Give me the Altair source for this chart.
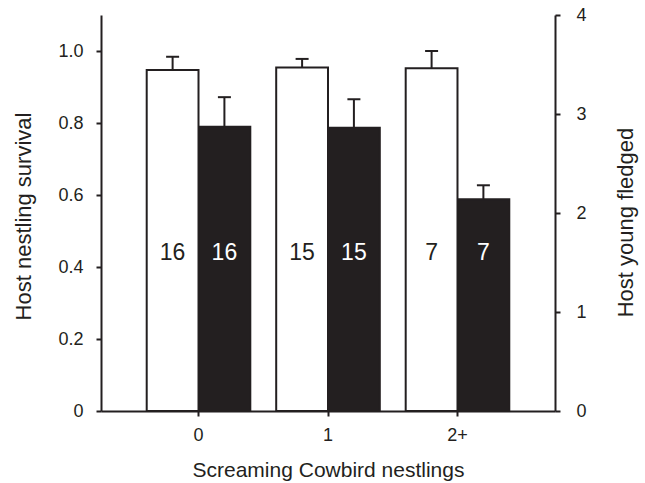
import altair as alt
import pandas as pd

categories = ["0", "1", "2+"]
survival = [0.947, 0.954, 0.952]
survival_upper = [0.984, 0.978, 1.000]
fledged = [2.87, 2.86, 2.14]
fledged_upper = [3.17, 3.15, 2.28]
sample_sizes = [16, 15, 7]
series_names = ["survival", "fledged"]

surv_df = pd.DataFrame({"group": categories, "series": "survival",
                        "value": survival, "upper": survival_upper})
fl_df = pd.DataFrame({"group": categories, "series": "fledged",
                      "value": fledged, "upper": fledged_upper})
n_df = pd.DataFrame({"group": categories * 2,
                     "series": ["survival"] * 3 + ["fledged"] * 3,
                     "n": sample_sizes * 2})

FONT = "Liberation Sans"
INK = "#231f20"

x_scale = alt.Scale(paddingInner=0.2, paddingOuter=0.353)
x_axis = alt.Axis(title="Screaming Cowbird nestlings", labelAngle=0,
                  tickSize=5, tickWidth=2, domainWidth=2, domainColor=INK,
                  tickColor=INK, labelFontSize=18, labelPadding=10,
                  titleFontSize=21, titleY=65.5, titleBaseline="alphabetic",
                  labelColor=INK, titleColor=INK, titleFontWeight="normal")
xoff = alt.XOffset("series:N", sort=series_names,
                   scale=alt.Scale(domain=series_names, paddingInner=0, paddingOuter=0))

def xenc():
    return alt.X("group:N", sort=categories, scale=x_scale, axis=x_axis)

left_scale = alt.Scale(domain=[0, 1.1], nice=False, zero=True)
right_scale = alt.Scale(domain=[0, 4], nice=False, zero=True)

left_axis = alt.Axis(title="Host nestling survival", orient="left",
                     values=[0, 0.2, 0.4, 0.6, 0.8, 1.0],
                     labelExpr="datum.value == 0 ? '0' : format(datum.value, '.1f')",
                     grid=False, tickSize=5, tickWidth=2, domainWidth=2,
                     domainColor=INK, tickColor=INK, labelFontSize=18,
                     labelPadding=13, titleFontSize=22,
                     titleAngle=270, titleBaseline="middle",
                     titleX=-77.5, titleY=201,
                     labelColor=INK, titleColor=INK, titleFontWeight="normal")
right_axis = alt.Axis(title="Host young fledged", orient="right",
                      values=[0, 1, 2, 3, 4], format="d",
                      grid=False, tickSize=5, tickWidth=2, domainWidth=2,
                      domainColor=INK, tickColor=INK, labelFontSize=18,
                      labelPadding=16, titleFontSize=22,
                      titleAngle=270, titleBaseline="middle",
                      titleX=70, titleY=207,
                      labelColor=INK, titleColor=INK, titleFontWeight="normal")

# Right-axis layer (black bars)
fl_bars = alt.Chart(fl_df).mark_bar(color=INK, stroke=INK, strokeWidth=2).encode(
    x=xenc(), xOffset=xoff,
    y=alt.Y("value:Q", scale=right_scale, axis=right_axis),
)
fl_rule = alt.Chart(fl_df).mark_rule(color=INK, strokeWidth=2).encode(
    x=xenc(), xOffset=xoff,
    y=alt.Y("value:Q", scale=right_scale, axis=right_axis), y2="upper:Q",
)
fl_cap = alt.Chart(fl_df).mark_tick(color=INK, orient="horizontal", size=13,
                                    thickness=2, opacity=1).encode(
    x=xenc(), xOffset=xoff,
    y=alt.Y("upper:Q", scale=right_scale, axis=right_axis),
)
right_layer = alt.layer(fl_bars, fl_rule, fl_cap)

# Left-axis layer (white bars)
sv_bars = alt.Chart(surv_df).mark_bar(color="white", stroke=INK, strokeWidth=2).encode(
    x=xenc(), xOffset=xoff,
    y=alt.Y("value:Q", scale=left_scale, axis=left_axis),
)
sv_rule = alt.Chart(surv_df).mark_rule(color=INK, strokeWidth=2).encode(
    x=xenc(), xOffset=xoff,
    y=alt.Y("value:Q", scale=left_scale, axis=left_axis), y2="upper:Q",
)
sv_cap = alt.Chart(surv_df).mark_tick(color=INK, orient="horizontal", size=13,
                                      thickness=2, opacity=1).encode(
    x=xenc(), xOffset=xoff,
    y=alt.Y("upper:Q", scale=left_scale, axis=left_axis),
)
n_text = alt.Chart(n_df).mark_text(fontSize=23, baseline="middle", font=FONT).encode(
    x=xenc(), xOffset=xoff,
    y=alt.Y(datum=0.44, scale=left_scale, axis=left_axis),
    text="n:Q",
    color=alt.Color("series:N", scale=alt.Scale(domain=series_names, range=[INK, "white"]),
                    legend=None),
)
left_layer = alt.layer(sv_bars, sv_rule, sv_cap, n_text)

chart = alt.layer(right_layer, left_layer).resolve_scale(y="independent").properties(
    width=454, height=396,
    autosize=alt.AutoSizeParams(type="none"),
    padding={"left": 101, "top": 15, "right": 90, "bottom": 72},
    background="white",
).configure(font=FONT).configure_view(stroke=None)

chart.save("out.html", embed_options={"renderer": "svg", "actions": False})
